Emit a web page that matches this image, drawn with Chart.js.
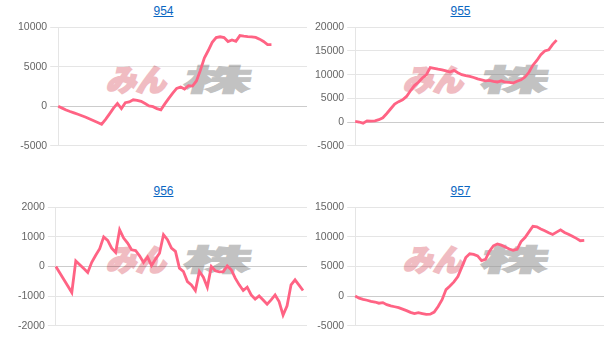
<!DOCTYPE html>
<html lang="ja">
<head>
<meta charset="utf-8">
<title>損益推移</title>
<script src="https://cdn.jsdelivr.net/npm/chart.js@4.4.1/dist/chart.umd.min.js"></script>
<style>
    html, body { margin: 0; padding: 0; background: #fff; }
    body { width: 614px; height: 346px; position: relative; overflow: hidden; font-family: "Liberation Sans", Arial, sans-serif; }
    .panel { position: absolute; width: 297px; height: 180px; }
    .panel h3 { position: absolute; top: 4px; left: 0; right: 0; margin: 0; text-align: center; font-size: 12px; line-height: 14px; font-weight: normal; }
    .panel h3 a { color: #0a66c2; text-decoration: underline; }
    .panel canvas { position: absolute; left: 0; top: 18px; }
    .logo { position: absolute; left: 94px; top: 63px; height: 30px; white-space: nowrap; font-family: "Noto Sans CJK JP", sans-serif; font-weight: 900; font-size: 30px; line-height: 30px; transform: skewX(-14deg); }
    .logo .min { color: #f0bcc2; -webkit-text-stroke: 2px #f0bcc2; }
    .logo .kabu { display: inline-block; color: #c2c2c2; -webkit-text-stroke: 1px #c2c2c2; transform: scaleX(2.25); transform-origin: left center; margin-left: 16px; }
</style>
</head>
<body>
<div id="charts"></div>
<script>
    // 銘柄コード
    const codes = ["954", "955", "956", "957"];

    // 横軸（日数、表示なし）
    const days = [1, 2, 3, 4, 5, 6, 7, 8, 9, 10, 11, 12, 13, 14, 15, 16,
        17, 18, 19, 20, 21, 22, 23, 24, 25, 26, 27, 28, 29, 30, 31, 32,
        33, 34, 35, 36, 37, 38, 39, 40, 41, 42, 43, 44, 45, 46, 47, 48,
        49, 50, 51, 52, 53, 54, 55, 56, 57, 58, 59, 60, 61, 62, 63, 64];

    // 損益推移
    const pl954 = [0, -240, -470, -670, -840, -1010, -1200, -1400, -1620, -1840, -2050, -2280,
        -1670, -970, -250, 350, -300, 450, 550, 820, 750, 620, 340, 50, -50, -300, -460,
        300, 1000, 1650, 2250, 2440, 2180, 2600, 2560, 3200, 4540, 6100, 7060, 8100, 8700,
        8800, 8700, 8200, 8400, 8230, 8950, 8880, 8830, 8800, 8720, 8500, 8200, 7800, 7810];
    const pl955 = [150, 0, -250, 250, 200, 250, 500, 900, 1800, 2800, 3800, 4300, 4700, 5400,
        6600, 7700, 8400, 9300, 9950, 11500, 11350, 11150, 11000, 10800, 10550, 10900, 10400,
        10000, 9800, 9650, 9400, 9100, 8900, 8700, 8800, 8600, 8450, 8700, 8400, 8350, 8250,
        8600, 8900, 9500, 10500, 12000, 13000, 14200, 15000, 15250, 16400, 17300];
    const pl956 = [0, -220, -440, -660, -880, 190, 60, -70, -200, 140, 380, 600, 1000, 880,
        620, 475, 1240, 960, 790, 565, 540, 360, 135, 320, 35, 250, 450, 1075, 905, 620, 510,
        -55, -170, -510, -620, -810, -170, -360, -700, 0, -145, -180, -170, 20, -110, -395,
        -620, -810, -700, -960, -1105, -995, -1130, -1275, -1130, -960, -1185, -1640, -1330,
        -620, -450, -630, -810];
    const pl957 = [0, -350, -560, -700, -900, -1000, -1200, -1100, -1450, -1650, -1800, -1950,
        -2200, -2450, -2750, -2950, -2800, -2950, -3100, -3050, -2700, -1750, -600, 1100, 1700,
        2400, 3300, 4900, 6500, 7150, 7050, 6800, 6000, 6200, 7600, 8500, 8800, 8600, 8300,
        7950, 7750, 7900, 9200, 9900, 10850, 11800, 11700, 11350, 11050, 10700, 10400, 10800,
        11200, 10750, 10450, 10100, 9750, 9350, 9400];

    // 縦軸目盛
    const ticks954 = [-5000, 0, 5000, 10000];
    const ticks955 = [-5000, 0, 5000, 10000, 15000, 20000];
    const ticks956 = [-2000, -1000, 0, 1000, 2000];
    const ticks957 = [-5000, 0, 5000, 10000, 15000];

    const series = [pl954, pl955, pl956, pl957];
    const yTicks = [ticks954, ticks955, ticks956, ticks957];
    const panelPos = [[15, 0], [312, 0], [15, 180], [312, 180]];
    const lineColor = "rgb(255, 99, 132)";

    function makePanel(i) {
        const panel = document.createElement("div");
        panel.className = "panel";
        panel.style.left = panelPos[i][0] + "px";
        panel.style.top = panelPos[i][1] + "px";
        panel.innerHTML = `
            <h3><a href="#">${codes[i]}</a></h3>
            <div class="logo"><span class="min">みん</span><span class="kabu">株</span></div>
            <canvas width="297" height="137"></canvas>`;
        document.getElementById("charts").appendChild(panel);
        return panel.querySelector("canvas");
    }

    function makeChart(canvas, values, ticks) {
        return new Chart(canvas, {
            type: "line",
            data: {
                labels: days,
                datasets: [{
                    data: values,
                    borderColor: lineColor,
                    backgroundColor: lineColor,
                    borderWidth: 2.8,
                    pointRadius: 0,
                    fill: false,
                    tension: 0
                }]
            },
            options: {
                responsive: false,
                animation: false,
                layout: { padding: { right: 5 } },
                plugins: {
                    legend: { display: false },
                    tooltip: { enabled: false }
                },
                scales: {
                    x: { display: false },
                    y: {
                        min: ticks[0],
                        max: ticks[ticks.length - 1],
                        ticks: {
                            stepSize: ticks[1] - ticks[0],
                            color: "#666",
                            font: { size: 10.5, family: "'Liberation Sans', Arial, sans-serif" },
                            callback: v => String(v)
                        },
                        grid: {
                            color: ctx => (ctx.tick && ctx.tick.value === 0) ? "rgba(0,0,0,0.2)" : "rgba(0,0,0,0.1)"
                        }
                    }
                }
            }
        });
    }

    codes.forEach((code, i) => {
        makeChart(makePanel(i), series[i], yTicks[i]);
    });
</script>
</body>
</html>
